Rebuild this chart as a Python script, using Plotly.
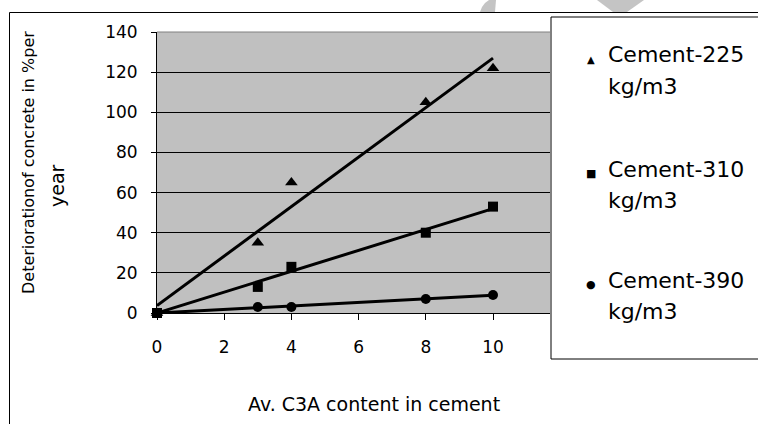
import plotly.graph_objects as go

# ---------------- data ----------------
c3a = [0, 3, 4, 8, 10]
cement_225 = [0, 35, 65, 105, 122]
cement_310 = [0, 13, 23, 40, 53]
cement_390 = [0, 3, 3, 7, 9]

trend_x = [0, 10]
trend_225 = [3.7, 127]
trend_310 = [0, 52]
trend_390 = [0, 8.8]

series_names = ["Cement-225", "Cement-310", "Cement-390"]
unit_label = "kg/m3"
y_ticks = [0, 20, 40, 60, 80, 100, 120, 140]
x_ticks = [0, 2, 4, 6, 8, 10]

FONT = "DejaVu Sans"
W, H = 758, 424
L, R, T, B = 157, 550, 32, 313


def px(x):
    return (x - L) / (R - L)


def py(y):
    return (B - y) / (B - T)


fig = go.Figure()

# trendlines
for ty in (trend_225, trend_310, trend_390):
    fig.add_trace(go.Scatter(x=trend_x, y=ty, mode="lines",
                             line=dict(color="black", width=3),
                             showlegend=False, hoverinfo="skip",
                             cliponaxis=False))

# data points
for yv, sym, sz in ((cement_225, "triangle-up", 11),
                    (cement_310, "square", 10),
                    (cement_390, "circle", 10)):
    fig.add_trace(go.Scatter(x=c3a, y=yv, mode="markers",
                             marker=dict(symbol=sym, size=sz, color="black",
                                         line=dict(width=0)),
                             showlegend=False, cliponaxis=False))

shapes = []
# outer chart border
shapes.append(dict(type="rect", xref="paper", yref="paper",
                   x0=px(9.5), x1=px(800), y0=py(12.5), y1=py(500),
                   line=dict(color="black", width=1), fillcolor="rgba(0,0,0,0)",
                   layer="below"))
# plot area top border (gray)
shapes.append(dict(type="line", xref="paper", yref="paper",
                   x0=0, x1=1, y0=1, y1=1,
                   line=dict(color="#808080", width=1), layer="above"))
# legend box
shapes.append(dict(type="rect", xref="paper", yref="paper",
                   x0=px(551), x1=px(800), y0=py(17), y1=py(359),
                   line=dict(color="black", width=1), fillcolor="white",
                   layer="above"))
# faint watermark fragments at top
shapes.append(dict(type="path", xref="paper", yref="paper",
                   path=f"M {px(480)},{py(12)} L {px(482)},{py(7)} L {px(485)},{py(3)} "
                        f"L {px(489)},{py(0)} L {px(496)},{py(0)} L {px(495)},{py(12)} Z",
                   fillcolor="#c4c4c4", line=dict(width=0), layer="below"))
shapes.append(dict(type="path", xref="paper", yref="paper",
                   path=f"M {px(597)},{py(0)} L {px(644)},{py(0)} L {px(627)},{py(12)} "
                        f"L {px(613)},{py(12)} Z",
                   fillcolor="#c4c4c4", line=dict(width=0), layer="below"))

annotations = []
# y axis title (two lines)
annotations.append(dict(text="Deteriorationof concrete in %per", textangle=-90,
                        xref="paper", yref="paper", x=px(28), y=py(163),
                        xanchor="center", yanchor="middle", showarrow=False,
                        font=dict(family=FONT, size=16, color="black")))
annotations.append(dict(text="year", textangle=-90,
                        xref="paper", yref="paper", x=px(57), y=py(186),
                        xanchor="center", yanchor="middle", showarrow=False,
                        font=dict(family=FONT, size=19, color="black")))
# x axis title
annotations.append(dict(text="Av. C3A content in cement",
                        xref="paper", yref="paper", x=px(374), y=py(404),
                        xanchor="center", yanchor="middle", showarrow=False,
                        font=dict(family=FONT, size=19, color="black")))

# legend entries
legend_syms = ["▲", "■", "●"]
legend_sym_sizes = [10, 11, 11]
legend_base = [63, 177, 288]
for name, sym, ssz, base in zip(series_names, legend_syms, legend_sym_sizes, legend_base):
    annotations.append(dict(text=sym, xref="paper", yref="paper",
                            x=px(591), y=py(base - 4), xanchor="center", yanchor="middle",
                            showarrow=False, font=dict(family=FONT, size=ssz, color="black")))
    annotations.append(dict(text=name, xref="paper", yref="paper",
                            x=px(606), y=py(base - 8), xanchor="left", yanchor="middle",
                            showarrow=False, font=dict(family=FONT, size=22, color="black")))
    annotations.append(dict(text=unit_label, xref="paper", yref="paper",
                            x=px(606), y=py(base + 31 - 8), xanchor="left", yanchor="middle",
                            showarrow=False, font=dict(family=FONT, size=22, color="black")))

fig.update_layout(
    width=W, height=H,
    margin=dict(l=L, r=W - R, t=T, b=H - B, pad=0),
    paper_bgcolor="white",
    plot_bgcolor="#c0c0c0",
    showlegend=False,
    font=dict(family=FONT, size=17, color="black"),
    shapes=shapes,
    annotations=annotations,
)

fig.update_xaxes(range=[0, (R - L) / 33.6], tickvals=x_ticks, ticktext=[str(v) for v in x_ticks],
                 showgrid=False, zeroline=False, showline=True, linecolor="black", linewidth=1,
                 ticks="outside", ticklen=6, tickcolor="black", tickwidth=1,
                 ticklabelstandoff=13, tickfont=dict(family=FONT, size=17, color="black"))
fig.update_yaxes(range=[0, 140], tickvals=y_ticks, ticktext=[str(v) for v in y_ticks],
                 showgrid=True, gridcolor="black", gridwidth=1, zeroline=False,
                 showline=True, linecolor="black", linewidth=1,
                 ticks="outside", ticklen=5, tickcolor="black", tickwidth=1,
                 ticklabelstandoff=10, tickfont=dict(family=FONT, size=17, color="black"))

fig.write_html("out.html")
